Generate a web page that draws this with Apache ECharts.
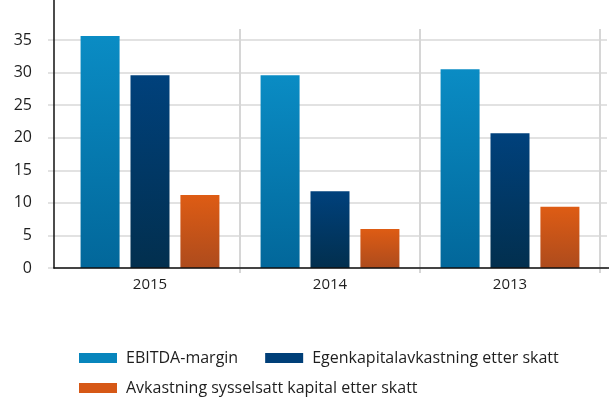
<!DOCTYPE html>
<html><head><meta charset="utf-8">
<script src="https://cdn.jsdelivr.net/npm/echarts@6/dist/echarts.min.js"></script>
<style>html,body{margin:0;padding:0;background:#fff}#c{width:609px;height:400px}</style>
</head><body><div id="c"></div>
<script>
const categories = ['2015', '2014', '2013'];
const ebitda = [35.6, 29.6, 30.5];
const egenkapital = [29.6, 11.8, 20.7];
const sysselsatt = [11.2, 6.0, 9.4];
const seriesNames = ['EBITDA-margin', 'Egenkapitalavkastning etter skatt', 'Avkastning sysselsatt kapital etter skatt'];
const seriesColors = ['#0785bc', '#003f78', '#d65816'];
const yTicks = {min: 0, max: 35, interval: 5};

const FONT = 'Open Sans';
const grad = (a, b) => new echarts.graphic.LinearGradient(0, 0, 0, 1, [{offset: 0, color: a}, {offset: 1, color: b}]);
const chart = echarts.init(document.getElementById('c'), null, {renderer: 'canvas'});
// pixel scale: 35 at y=40, 0 at y=268 -> main grid top 29
const mainMax = yTicks.max * (268 - 29) / (268 - 40);
const topMax = yTicks.max * 268 / (268 - 40);
const legendText = {fontSize: 16, color: '#1e1e1e', fontFamily: FONT, padding: [0, 0, 0, 4]};
chart.setOption({
  animation: false,
  textStyle: {fontFamily: FONT},
  grid: [
    {left: 60, right: 9, top: 29, bottom: 132},   // bars
    {left: 48, right: 2, top: 40, bottom: 132},   // horizontal gridlines + labels
    {left: 54, right: 0, top: 0, bottom: 132}     // axis lines
  ],
  xAxis: [
    {gridIndex: 0, type: 'category', data: categories,
     axisLine: {show: false},
     axisTick: {show: true, length: 5, lineStyle: {color: '#d6d6d6', width: 2}, interval: (i) => i > 0},
     splitLine: {show: true, showMinLine: false, lineStyle: {color: '#d6d6d6', width: 2}},
     axisLabel: {color: '#1e1e1e', fontSize: 15, margin: 9, fontFamily: FONT}},
    {gridIndex: 1, type: 'value', show: false, min: 0, max: 1},
    {gridIndex: 2, type: 'value', min: 0, max: 1, axisLine: {show: true, lineStyle: {color: '#111', width: 1.5}},
     axisTick: {show: false}, axisLabel: {show: false}, splitLine: {show: false}, z: 10}
  ],
  yAxis: [
    {gridIndex: 0, type: 'value', min: 0, max: mainMax, show: false},
    {gridIndex: 1, type: 'value', min: yTicks.min, max: yTicks.max, interval: yTicks.interval,
     axisLine: {show: false}, axisTick: {show: false},
     axisLabel: {color: '#1e1e1e', fontSize: 16, margin: 16, fontFamily: FONT},
     splitLine: {show: true, lineStyle: {color: '#e2e2e2', width: 2}}},
    {gridIndex: 2, type: 'value', min: 0, max: topMax,
     axisLine: {show: true, lineStyle: {color: '#111', width: 1.5}},
     axisTick: {show: false}, axisLabel: {show: false}, splitLine: {show: false}, z: 10}
  ],
  legend: [
    {data: [0, 1].map(i => ({name: seriesNames[i], itemStyle: {color: seriesColors[i]}})),
     left: 79, top: 350, padding: 0, itemWidth: 38, itemHeight: 10, itemGap: 27,
     icon: 'rect', textStyle: legendText},
    {data: [2].map(i => ({name: seriesNames[i], itemStyle: {color: seriesColors[i]}})),
     left: 79, top: 380, padding: 0, itemWidth: 38, itemHeight: 10, itemGap: 27,
     icon: 'rect', textStyle: legendText}
  ],
  series: [
    {name: seriesNames[0], type: 'bar', data: ebitda, barWidth: 39, barGap: '28%', xAxisIndex: 0, yAxisIndex: 0,
     itemStyle: {color: grad('#0a8cc4', '#02679a')}},
    {name: seriesNames[1], type: 'bar', data: egenkapital, barWidth: 39, barGap: '28%', xAxisIndex: 0, yAxisIndex: 0,
     itemStyle: {color: grad('#00417c', '#022f4e')}},
    {name: seriesNames[2], type: 'bar', data: sysselsatt, barWidth: 39, barGap: '28%', xAxisIndex: 0, yAxisIndex: 0,
     itemStyle: {color: grad('#de5c14', '#ad4b1d')}}
  ]
});
</script></body></html>
